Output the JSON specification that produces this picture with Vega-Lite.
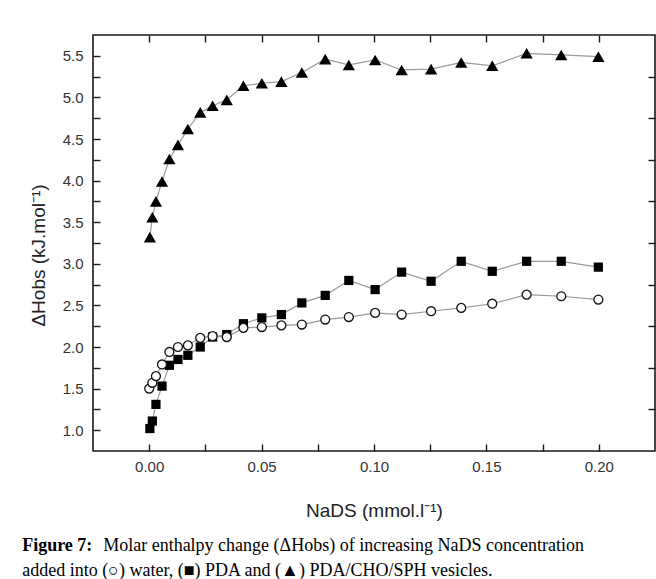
{
  "$schema": "https://vega.github.io/schema/vega-lite/v6.json",
  "width": 562,
  "height": 416,
  "autosize": {"type": "none"},
  "padding": {"left": 93, "top": 35, "right": 1, "bottom": 128},
  "background": "white",
  "config": {
    "view": {"stroke": "#1a1a1a", "strokeWidth": 1.6},
    "axis": {
      "tickColor": "#1a1a1a", "tickWidth": 1.4, "labelColor": "#333333", "titleColor": "#222222",
      "labelFont": "Liberation Sans", "titleFont": "Liberation Sans", "titleFontWeight": "normal",
      "labelFontSize": 15, "titleFontSize": 19, "grid": false, "domain": false, "labelOverlap": false, "labelFlush": false
    }
  },
  "title": {
    "text": "Figure 7:",
    "subtitle": ["\u200b\u00a0\u00a0\u00a0\u00a0\u00a0\u00a0\u00a0\u00a0\u00a0\u00a0\u00a0\u00a0\u00a0\u00a0\u00a0\u00a0\u00a0\u00a0Molar enthalpy change (ΔHobs) of increasing NaDS concentration", "added into (○) water, (■) PDA and (▲) PDA/CHO/SPH vesicles."],
    "orient": "bottom", "anchor": "start", "frame": "bounds",
    "font": "Liberation Serif", "fontSize": 18, "fontWeight": "bold", "color": "#000000",
    "subtitleFont": "Liberation Serif", "subtitleFontSize": 18, "subtitleFontWeight": "normal", "subtitleColor": "#000000",
    "subtitlePadding": -18, "subtitleLineHeight": 25, "offset": 17, "dx": -7
  },
  "data": {"values": [
    {"s": "T", "x": 0.0003, "y": 3.32}, {"s": "T", "x": 0.0014, "y": 3.56}, {"s": "T", "x": 0.003, "y": 3.75},
    {"s": "T", "x": 0.0057, "y": 3.99}, {"s": "T", "x": 0.009, "y": 4.26}, {"s": "T", "x": 0.0128, "y": 4.43},
    {"s": "T", "x": 0.0172, "y": 4.62}, {"s": "T", "x": 0.0227, "y": 4.82}, {"s": "T", "x": 0.0282, "y": 4.90},
    {"s": "T", "x": 0.0345, "y": 4.97}, {"s": "T", "x": 0.0419, "y": 5.14}, {"s": "T", "x": 0.0501, "y": 5.17},
    {"s": "T", "x": 0.0588, "y": 5.19}, {"s": "T", "x": 0.0679, "y": 5.30}, {"s": "T", "x": 0.0783, "y": 5.46},
    {"s": "T", "x": 0.0888, "y": 5.39}, {"s": "T", "x": 0.1005, "y": 5.45}, {"s": "T", "x": 0.1123, "y": 5.33},
    {"s": "T", "x": 0.1254, "y": 5.34}, {"s": "T", "x": 0.1388, "y": 5.42}, {"s": "T", "x": 0.1526, "y": 5.38},
    {"s": "T", "x": 0.1679, "y": 5.53}, {"s": "T", "x": 0.1833, "y": 5.51}, {"s": "T", "x": 0.1998, "y": 5.49},
    {"s": "S", "x": 0.0003, "y": 1.02}, {"s": "S", "x": 0.0014, "y": 1.11}, {"s": "S", "x": 0.003, "y": 1.31},
    {"s": "S", "x": 0.0057, "y": 1.53}, {"s": "S", "x": 0.009, "y": 1.78}, {"s": "S", "x": 0.0128, "y": 1.85},
    {"s": "S", "x": 0.0172, "y": 1.90}, {"s": "S", "x": 0.0227, "y": 2.00}, {"s": "S", "x": 0.0282, "y": 2.12},
    {"s": "S", "x": 0.0345, "y": 2.15}, {"s": "S", "x": 0.0419, "y": 2.28}, {"s": "S", "x": 0.0501, "y": 2.35},
    {"s": "S", "x": 0.0588, "y": 2.39}, {"s": "S", "x": 0.0679, "y": 2.53}, {"s": "S", "x": 0.0783, "y": 2.62},
    {"s": "S", "x": 0.0888, "y": 2.80}, {"s": "S", "x": 0.1005, "y": 2.69}, {"s": "S", "x": 0.1123, "y": 2.90},
    {"s": "S", "x": 0.1254, "y": 2.79}, {"s": "S", "x": 0.1388, "y": 3.03}, {"s": "S", "x": 0.1526, "y": 2.91},
    {"s": "S", "x": 0.1679, "y": 3.03}, {"s": "S", "x": 0.1833, "y": 3.03}, {"s": "S", "x": 0.1998, "y": 2.96},
    {"s": "C", "x": 0.0, "y": 1.50}, {"s": "C", "x": 0.0014, "y": 1.57}, {"s": "C", "x": 0.003, "y": 1.65},
    {"s": "C", "x": 0.0057, "y": 1.79}, {"s": "C", "x": 0.009, "y": 1.94}, {"s": "C", "x": 0.0128, "y": 2.00},
    {"s": "C", "x": 0.0172, "y": 2.02}, {"s": "C", "x": 0.0227, "y": 2.11}, {"s": "C", "x": 0.0282, "y": 2.13},
    {"s": "C", "x": 0.0345, "y": 2.12}, {"s": "C", "x": 0.0419, "y": 2.23}, {"s": "C", "x": 0.0501, "y": 2.24},
    {"s": "C", "x": 0.0588, "y": 2.26}, {"s": "C", "x": 0.0679, "y": 2.27}, {"s": "C", "x": 0.0783, "y": 2.33},
    {"s": "C", "x": 0.0888, "y": 2.36}, {"s": "C", "x": 0.1005, "y": 2.41}, {"s": "C", "x": 0.1123, "y": 2.39},
    {"s": "C", "x": 0.1254, "y": 2.43}, {"s": "C", "x": 0.1388, "y": 2.47}, {"s": "C", "x": 0.1526, "y": 2.52},
    {"s": "C", "x": 0.1679, "y": 2.63}, {"s": "C", "x": 0.1833, "y": 2.61}, {"s": "C", "x": 0.1998, "y": 2.57}
  ]},
  "resolve": {"axis": {"x": "independent", "y": "independent"}},
  "layer": [
    {
      "transform": [{"filter": "datum.s == 'S'"}],
      "mark": {"type": "line", "stroke": "#9a9a9a", "strokeWidth": 1.2},
      "encoding": {
        "x": {"field": "x", "type": "quantitative", "scale": {"domain": [-0.025, 0.225], "nice": false, "zero": false},
          "axis": {"orient": "bottom", "values": [0, 0.025, 0.05, 0.075, 0.1, 0.125, 0.15, 0.175, 0.2],
            "labelExpr": "indexof(['0.00','0.05','0.10','0.15','0.20'], format(datum.value,'.2f')) >= 0 ? format(datum.value,'.2f') : ''",
            "tickSize": -7, "labelPadding": 15, "title": "NaDS (mmol.l⁻¹)", "titlePadding": 27}},
        "y": {"field": "y", "type": "quantitative", "scale": {"domain": [0.75, 5.75], "nice": false, "zero": false},
          "axis": {"orient": "left", "values": [1, 1.25, 1.5, 1.75, 2, 2.25, 2.5, 2.75, 3, 3.25, 3.5, 3.75, 4, 4.25, 4.5, 4.75, 5, 5.25, 5.5],
            "labelExpr": "datum.value*2 == round(datum.value*2) ? format(datum.value,'.1f') : ''",
            "tickSize": -7, "labelPadding": 17, "title": "ΔHobs (kJ.mol⁻¹)", "titlePadding": 14, "titleY": 220}}
      }
    },
    {
      "transform": [{"filter": "datum.s == 'C'"}],
      "mark": {"type": "line", "stroke": "#9a9a9a", "strokeWidth": 1.2},
      "encoding": {
        "x": {"field": "x", "type": "quantitative", "scale": {"domain": [-0.025, 0.225], "nice": false, "zero": false},
          "axis": {"orient": "top", "values": [0, 0.025, 0.05, 0.075, 0.1, 0.125, 0.15, 0.175, 0.2], "labels": false, "tickSize": -7, "title": null}},
        "y": {"field": "y", "type": "quantitative", "scale": {"domain": [0.75, 5.75], "nice": false, "zero": false},
          "axis": {"orient": "right", "values": [1.25, 1.75, 2.25, 2.75, 3.25, 3.75, 4.25, 4.75, 5.25], "labels": false, "tickSize": -7, "title": null}}
      }
    },
    {
      "transform": [{"filter": "datum.s == 'T'"}],
      "mark": {"type": "line", "stroke": "#9a9a9a", "strokeWidth": 1.2},
      "encoding": {
        "x": {"field": "x", "type": "quantitative", "scale": {"domain": [-0.025, 0.225], "nice": false, "zero": false}, "axis": null},
        "y": {"field": "y", "type": "quantitative", "scale": {"domain": [0.75, 5.75], "nice": false, "zero": false}, "axis": null}
      }
    },
    {
      "transform": [{"filter": "datum.s == 'S'"}],
      "mark": {"type": "point", "shape": "square", "filled": true, "fill": "#000000", "size": 85, "opacity": 1},
      "encoding": {
        "x": {"field": "x", "type": "quantitative", "scale": {"domain": [-0.025, 0.225], "nice": false, "zero": false}, "axis": null},
        "y": {"field": "y", "type": "quantitative", "scale": {"domain": [0.75, 5.75], "nice": false, "zero": false}, "axis": null}
      }
    },
    {
      "transform": [{"filter": "datum.s == 'C'"}],
      "mark": {"type": "point", "shape": "circle", "filled": false, "fill": "#ffffff", "fillOpacity": 1, "stroke": "#111111", "strokeWidth": 1.3, "size": 80, "opacity": 1},
      "encoding": {
        "x": {"field": "x", "type": "quantitative", "scale": {"domain": [-0.025, 0.225], "nice": false, "zero": false}, "axis": null},
        "y": {"field": "y", "type": "quantitative", "scale": {"domain": [0.75, 5.75], "nice": false, "zero": false}, "axis": null}
      }
    },
    {
      "transform": [{"filter": "datum.s == 'T'"}],
      "mark": {"type": "point", "shape": "triangle-up", "filled": true, "fill": "#000000", "size": 150, "opacity": 1},
      "encoding": {
        "x": {"field": "x", "type": "quantitative", "scale": {"domain": [-0.025, 0.225], "nice": false, "zero": false}, "axis": null},
        "y": {"field": "y", "type": "quantitative", "scale": {"domain": [0.75, 5.75], "nice": false, "zero": false}, "axis": null}
      }
    }
  ]
}
